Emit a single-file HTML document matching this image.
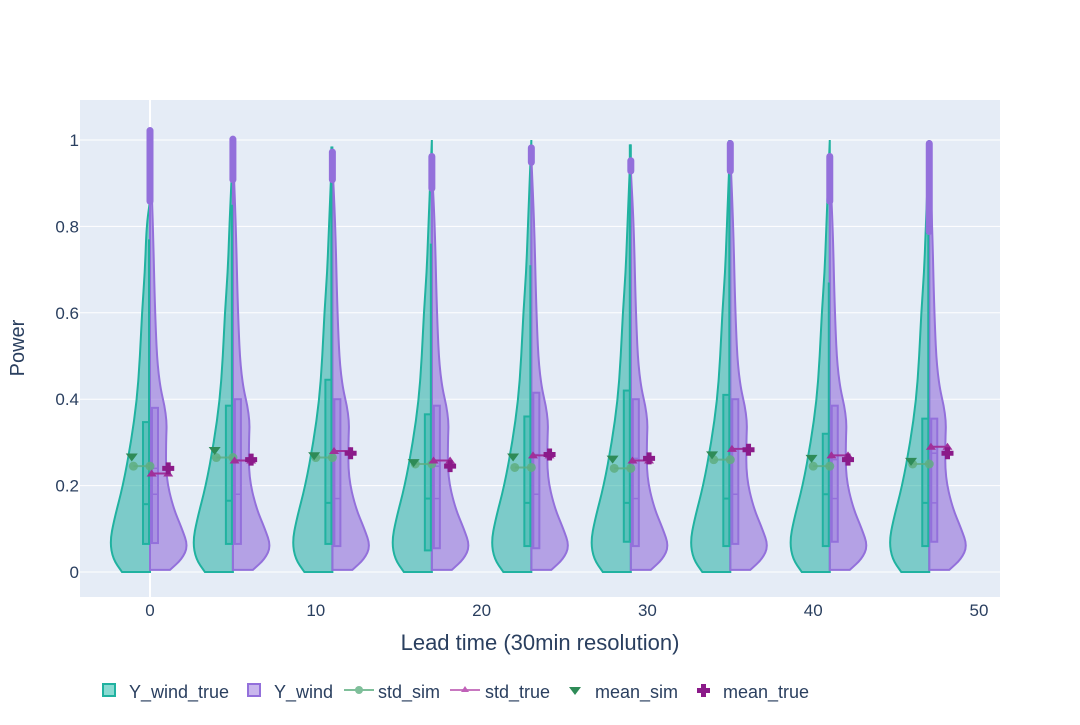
<!DOCTYPE html>
<html><head><meta charset="utf-8"><style>
body{margin:0;background:#fff;font-family:"Liberation Sans",sans-serif}
svg text{font-family:"Liberation Sans",sans-serif;fill:#2a3f5f}
</style></head><body>
<svg id="chart" width="1080" height="720" xmlns="http://www.w3.org/2000/svg">
<rect x="80" y="100" width="920" height="497" fill="#e5ecf6"/>
<g id="grid"></g><g id="marks"></g><g id="axes"></g>
<text x="540" y="650" text-anchor="middle" font-size="22">Lead time (30min resolution)</text>
<text transform="translate(24,348) rotate(-90)" text-anchor="middle" font-size="20">Power</text>
<g font-size="18">
 <g><rect x="103" y="684" width="12" height="12" fill="#14b8a6" fill-opacity="0.5" stroke="#20b2a0" stroke-width="2"/><text x="129" y="698">Y_wind_true</text></g>
 <g><rect x="248" y="684" width="12" height="12" fill="#9370db" fill-opacity="0.5" stroke="#9370db" stroke-width="2"/><text x="274" y="698">Y_wind</text></g>
 <g><line x1="344" y1="690" x2="374" y2="690" stroke="#7fbf9a" stroke-width="2"/><circle cx="359" cy="690" r="4" fill="#7fbf9a"/><text x="378" y="698">std_sim</text></g>
 <g><line x1="450" y1="690" x2="480" y2="690" stroke="#c878c0" stroke-width="2"/><path d="M465,686 l4,6 h-8z" fill="#c060b8"/><text x="485" y="698">std_true</text></g>
 <g><path d="M569,687 h12 l-6,8z" fill="#2e8b57"/><text x="595" y="698">mean_sim</text></g>
 <g><path d="M701,684 h5 v4 h4 v5 h-4 v4 h-5 v-4 h-4 v-5 h4z" fill="#8b1a89"/><text x="723" y="698">mean_true</text></g>
</g>
</svg>
<script>
const leadTimes=[0,5,11,17,23,29,35,41,47];
const tealTop=[0.86,0.98,0.985,1.0,1.0,0.99,1.0,1.0,1.0];
const purpleTop=[1.03,1.01,0.98,0.97,0.99,0.96,1.0,0.97,1.0];
const tealQ1=[0.065,0.065,0.065,0.05,0.06,0.07,0.06,0.06,0.06];
const tealMed=[0.157,0.165,0.16,0.17,0.16,0.16,0.17,0.18,0.16];
const tealQ3=[0.347,0.385,0.445,0.365,0.36,0.42,0.41,0.32,0.355];
const tealWhisk=[0.77,0.85,0.985,0.76,0.71,0.99,1.0,0.67,0.8];
const purpleQ1=[0.067,0.065,0.06,0.055,0.055,0.06,0.065,0.07,0.07];
const purpleMed=[0.18,0.18,0.17,0.17,0.18,0.17,0.18,0.17,0.16];
const purpleQ3=[0.38,0.4,0.4,0.385,0.415,0.4,0.4,0.385,0.355];
const purpleOutLo=[0.85,0.9,0.9,0.88,0.94,0.92,0.92,0.85,0.78];
const meanSim=[0.265,0.28,0.268,0.252,0.265,0.26,0.27,0.262,0.255];
const stdSim=[0.245,0.265,0.265,0.25,0.242,0.24,0.26,0.245,0.25];
const stdTrue=[0.228,0.258,0.28,0.258,0.27,0.258,0.285,0.27,0.29];
const meanTrue=[0.24,0.26,0.275,0.245,0.272,0.263,0.283,0.26,0.275];
const xTicks=[0,10,20,30,40,50];
const yTicks=[0,0.2,0.4,0.6,0.8,1];
const yTickLabels=["0","0.2","0.4","0.6","0.8","1"];

const X=v=>150+v*16.58, Y=v=>572-v*432;
const NS="http://www.w3.org/2000/svg";
function mk(tag,attrs,parent){const e=document.createElementNS(NS,tag);for(const k in attrs)e.setAttribute(k,attrs[k]);parent.appendChild(e);return e;}
const grid=document.getElementById('grid'),marks=document.getElementById('marks'),axes=document.getElementById('axes');
yTicks.forEach((t,i)=>{
 const g=mk('line',{x1:80,x2:1000,y1:Y(t),y2:Y(t),stroke:'#fff','stroke-width':1},grid);
 
 
 const tx=mk('text',{x:79,y:Y(t)+6,'text-anchor':'end','font-size':17},axes);tx.textContent=yTickLabels[i];
 
 
});
const zl=mk('line',{x1:X(0),x2:X(0),y1:100,y2:597,stroke:'#fff','stroke-width':2},grid);


xTicks.forEach(t=>{
 const tx=mk('text',{x:X(t),y:616,'text-anchor':'middle','font-size':17},axes);tx.textContent=t;
 
 
});
const tealShape=[[0,28],[0.03,37],[0.07,40],[0.12,36],[0.2,27],[0.3,19],[0.4,13],[0.5,10],[0.6,8],[0.7,5],[0.8,3.5]];
const purpShape=[[0.005,20],[0.03,32],[0.06,38],[0.1,32],[0.15,23],[0.22,16],[0.3,16],[0.36,17],[0.45,8],[0.6,5],[0.8,3]];
function half(cx,shape,top,dir){
 let pts=shape.filter(p=>p[0]<top-0.04);pts.push([top,0]);
 const P=pts.map(p=>[cx+dir*p[1],Y(p[0])]);
 let d=`M${cx},${P[0][1]} L${P[0][0]},${P[0][1]}`;
 for(let k=1;k<P.length;k++){
  const a=P[k-1],b=P[k];
  const mx=(a[0]+b[0])/2,my=(a[1]+b[1])/2;
  d+= k===1?` L${mx},${my}`:` Q${a[0]},${a[1]} ${mx},${my}`;
 }
 const L=P[P.length-1];
 d+=` L${L[0]},${L[1]} L${cx},${Y(top)} Z`;return d;
}
leadTimes.forEach((lt,i)=>{
 const cx=X(lt);
 const g=mk('g',{},marks);
 
 
 const vt=mk('path',{d:half(cx,tealShape,tealTop[i],-1),fill:'rgba(20,170,155,0.5)',stroke:'#20b2a0','stroke-width':2},g);
 
 
 const vp=mk('path',{d:half(cx,purpShape,purpleTop[i]-0.03,1),fill:'rgba(147,112,219,0.6)',stroke:'#9370db','stroke-width':2},g);
 
 
 mk('line',{x1:cx-1,x2:cx-1,y1:Y(tealQ3[i]),y2:Y(tealWhisk[i]),stroke:'#20b2a0','stroke-width':2},g);
 const bt=mk('rect',{x:cx-7,y:Y(tealQ3[i]),width:6,height:Y(tealQ1[i])-Y(tealQ3[i]),fill:'rgba(20,170,155,0.3)',stroke:'#20b2a0','stroke-width':2},g);
 
 
 mk('line',{x1:cx-7,x2:cx-1,y1:Y(tealMed[i]),y2:Y(tealMed[i]),stroke:'#20b2a0','stroke-width':2},g);
 const bp=mk('rect',{x:cx+2,y:Y(purpleQ3[i]),width:6,height:Y(purpleQ1[i])-Y(purpleQ3[i]),fill:'rgba(147,112,219,0.3)',stroke:'#9370db','stroke-width':2},g);
 
 
 mk('line',{x1:cx+2,x2:cx+8,y1:Y(purpleMed[i]),y2:Y(purpleMed[i]),stroke:'#9370db','stroke-width':1.5},g);
 mk('line',{x1:cx+2,x2:cx+8,y1:Y(meanTrue[i]),y2:Y(meanTrue[i]),stroke:'#9370db','stroke-width':1.5},g);
 const o=mk('rect',{x:cx-3.5,y:Y(purpleTop[i]),width:7,height:Y(purpleOutLo[i])-Y(purpleTop[i]),rx:3.5,fill:'#9370db'},g);
 
 
 const sx1=X(lt-1),sx2=cx;
 mk('line',{x1:sx1,x2:sx2,y1:Y(stdSim[i]),y2:Y(stdSim[i]),stroke:'#5fae80','stroke-width':2,opacity:0.8},g);
 [sx1,sx2].forEach(x=>{const c=mk('circle',{cx:x,cy:Y(stdSim[i]),r:4.5,fill:'#5fae80',opacity:0.85},g);
  
  });
 const my=Y(meanSim[i]),mx=X(lt-1.1);
 const ms=mk('path',{d:`M${mx-6},${my-4} h12 l-6,8z`,fill:'#2e8b57'},g);
 
 
 const ty=Y(stdTrue[i]),tx1=X(lt+0.1),tx2=X(lt+1.1);
 mk('line',{x1:tx1,x2:tx2,y1:ty,y2:ty,stroke:'#a0309a','stroke-width':2},g);
 [tx1,tx2].forEach(x=>{const t=mk('path',{d:`M${x},${ty-4} l5,7 h-10z`,fill:'#a0309a'},g);
  
  });
 const cy=Y(meanTrue[i]),cx2=X(lt+1.1);
 const mt=mk('path',{d:`M${cx2-2.5},${cy-6} h5 v3.5 h3.5 v5 h-3.5 v3.5 h-5 v-3.5 h-3.5 v-5 h3.5z`,fill:'#8b1a89'},g);
 
 
});
</script>
</body></html>
